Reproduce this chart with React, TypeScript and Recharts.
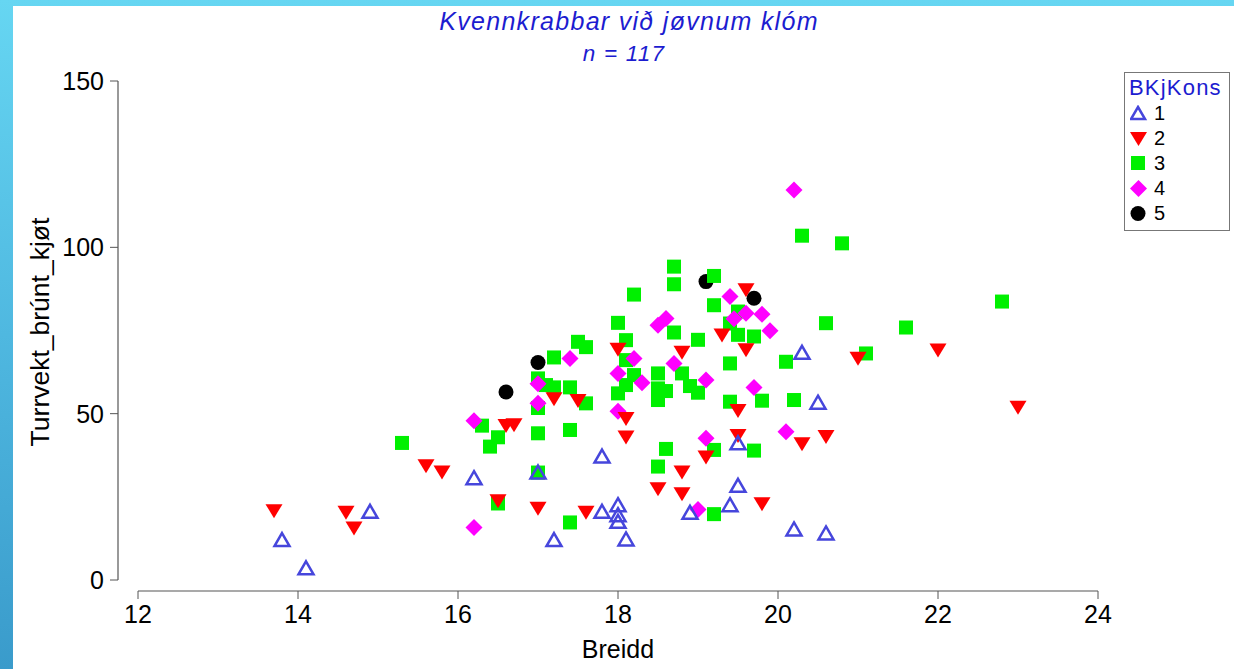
import { ScatterChart, Scatter, XAxis, YAxis, ReferenceLine } from "recharts";

const X_TICKS = [12, 14, 16, 18, 20, 22, 24];
const Y_TICKS = [0, 50, 100, 150];
const CATEGORIES = ["1", "2", "3", "4", "5"];

// BKjKons = 1
const G1_X = [13.8, 14.1, 14.9, 16.2, 17.0, 17.2, 17.8, 17.8, 18.0, 18.0, 18.0, 18.1, 18.9, 19.4, 19.5, 19.5, 20.2, 20.3, 20.5, 20.6];
const G1_Y = [12, 3.5, 20.5, 30.6, 32.3, 12, 37.1, 20.5, 22.5, 19.5, 17.5, 12.2, 20.2, 22.5, 28.3, 41.1, 15.2, 68.3, 53.3, 14];

// BKjKons = 2
const G2_X = [13.7, 14.6, 14.7, 15.6, 15.8, 16.5, 16.6, 16.7, 17.0, 17.2, 17.5, 17.6, 18.0, 18.1, 18.1, 18.5, 18.8, 18.8, 18.8, 19.1, 19.3, 19.5, 19.5, 19.6, 19.6, 19.8, 20.3, 20.6, 21.0, 22.0, 23.0];
const G2_Y = [21, 20.5, 15.8, 34.5, 32.6, 24, 46.6, 46.8, 21.7, 54.6, 54.1, 20.5, 69.5, 48.7, 43.1, 27.6, 68.6, 32.6, 26.1, 37.1, 73.8, 51.1, 43.6, 69.4, 87.4, 23.1, 41.1, 43.3, 66.8, 69.3, 52.1];

// BKjKons = 3
const G3_X = [15.3, 16.3, 16.5, 16.4, 16.5, 17.0, 17.1, 17.2, 17.4, 17.2, 17.5, 17.6, 17.6, 17.0, 17.0, 17.4, 17.0, 17.4, 18.0, 18.1, 18.2, 18.1, 18.2, 18.1, 18.0, 18.5, 18.8, 18.5, 18.6, 18.5, 18.9, 19.0, 18.7, 19.0, 19.5, 19.7, 18.7, 18.7, 19.2, 19.2, 19.5, 19.4, 19.4, 20.1, 19.8, 19.4, 20.2, 19.2, 19.7, 18.6, 18.5, 19.2, 20.3, 20.8, 22.8, 20.6, 21.6, 21.1];
const G3_Y = [41.2, 46.4, 42.9, 40.1, 23, 60.6, 58.6, 57.9, 57.9, 66.9, 71.6, 70, 53.1, 51.7, 44.1, 45.1, 32.3, 17.3, 77.3, 72.1, 85.8, 66.1, 61.6, 58.6, 56.1, 62.1, 62.1, 57.6, 56.8, 54.1, 58.3, 56.3, 74.4, 72.2, 73.7, 73.2, 94.2, 88.9, 91.4, 82.6, 80.7, 77.1, 65.1, 65.6, 53.9, 53.6, 54.1, 39.1, 38.9, 39.4, 34.1, 19.8, 103.5, 101.2, 83.7, 77.2, 75.9, 68.1];

// BKjKons = 4
const G4_X = [17.4, 17.0, 17.0, 18.0, 16.2, 16.2, 18.2, 18.0, 18.3, 18.7, 19.1, 19.7, 19.1, 20.1, 19.0, 20.2, 19.4, 19.8, 19.6, 19.45, 19.9, 18.5, 18.6];
const G4_Y = [66.6, 59, 53.1, 50.7, 47.9, 15.8, 66.6, 62.1, 59.3, 65.1, 60.1, 57.9, 42.6, 44.6, 21.2, 117.2, 85.2, 79.9, 80.2, 78.5, 74.9, 76.6, 78.6];

// BKjKons = 5
const G5_X = [16.6, 17.0, 19.1, 19.7];
const G5_Y = [56.5, 65.4, 89.7, 84.7];

const toPoints = (xs: number[], ys: number[]) => xs.map((x, i) => ({ x, y: ys[i] }));

const BLUE = "#4646dc";
const RED = "#ff0000";
const GREEN = "#00f000";
const MAGENTA = "#ff00ff";
const BLACK = "#000000";
const TITLE_BLUE = "#1c1cd0";
const FONT = "'Liberation Sans', Arial, sans-serif";

const TriUp = ({ cx, cy }: any) => (
  <polygon
    points={`${cx},${cy - 7} ${cx + 7.5},${cy + 6} ${cx - 7.5},${cy + 6}`}
    fill="none"
    stroke={BLUE}
    strokeWidth={2.5}
  />
);
const TriDown = ({ cx, cy }: any) => (
  <polygon points={`${cx - 8.5},${cy - 6} ${cx + 8.5},${cy - 6} ${cx},${cy + 8}`} fill={RED} />
);
const Square = ({ cx, cy }: any) => <rect x={cx - 7} y={cy - 7} width={14} height={14} fill={GREEN} />;
const Diamond = ({ cx, cy }: any) => (
  <polygon points={`${cx},${cy - 8.5} ${cx + 8.5},${cy} ${cx},${cy + 8.5} ${cx - 8.5},${cy}`} fill={MAGENTA} />
);
const Dot = ({ cx, cy }: any) => <circle cx={cx} cy={cy} r={7.5} fill={BLACK} />;

const LEGEND_ICONS = [
  <polygon key="1" points="8,2 15,14 1,14" fill="none" stroke={BLUE} strokeWidth={2.5} />,
  <polygon key="2" points="0,2 17,2 8.5,16" fill={RED} />,
  <rect key="3" x={1} y={1} width={14} height={14} fill={GREEN} />,
  <polygon key="4" points="8.5,0 17,8.5 8.5,17 0,8.5" fill={MAGENTA} />,
  <circle key="5" cx={8} cy={8.5} r={7.5} fill={BLACK} />,
];

// axis lines sit apart from the data region: 11 px below zero, 20 px left of 12
const X_AXIS_Y = -11 * (150 / 499);
const Y_AXIS_X = 12 - 20 / 80;

export default function App() {
  return (
    <div
      style={{
        position: "fixed",
        left: 0,
        top: 0,
        width: 1234,
        height: 669,
        background: "linear-gradient(180deg, #66d6f2 0%, #4fb8e0 50%, #3a9bcb 100%)",
        fontFamily: FONT,
        overflow: "hidden",
      }}
    >
      <div style={{ position: "absolute", left: 13, top: 6, right: 0, bottom: 0, background: "#fff" }} />

      <div style={{ position: "absolute", left: 0, top: 0 }}>
        <ScatterChart width={1234} height={669} margin={{ top: 81, right: 136, bottom: 0, left: 0 }}>
          <XAxis
            type="number"
            dataKey="x"
            domain={[12, 24]}
            ticks={X_TICKS}
            padding={{ left: 20, right: 0 }}
            height={78}
            axisLine={false}
            tickLine={{ stroke: "#555" }}
            tickSize={8}
            tickMargin={6}
            tick={{ fill: "#000", fontSize: 25, fontFamily: FONT }}
            allowDataOverflow
          />
          <YAxis
            type="number"
            dataKey="y"
            domain={[0, 150]}
            ticks={Y_TICKS}
            padding={{ top: 0, bottom: 11 }}
            width={118}
            axisLine={false}
            tickLine={{ stroke: "#555" }}
            tickSize={8}
            tickMargin={6}
            tick={{ fill: "#000", fontSize: 25, fontFamily: FONT }}
            allowDataOverflow
          />
          <ReferenceLine
            segment={[
              { x: Y_AXIS_X, y: 0 },
              { x: Y_AXIS_X, y: 150 },
            ]}
            stroke="#555"
            strokeWidth={1.2}
            ifOverflow="visible"
          />
          <ReferenceLine
            segment={[
              { x: 12, y: X_AXIS_Y },
              { x: 24, y: X_AXIS_Y },
            ]}
            stroke="#555"
            strokeWidth={1.2}
            ifOverflow="visible"
          />
          <Scatter data={toPoints(G5_X, G5_Y)} shape={Dot} isAnimationActive={false} />
          <Scatter data={toPoints(G3_X, G3_Y)} shape={Square} isAnimationActive={false} />
          <Scatter data={toPoints(G4_X, G4_Y)} shape={Diamond} isAnimationActive={false} />
          <Scatter data={toPoints(G2_X, G2_Y)} shape={TriDown} isAnimationActive={false} />
          <Scatter data={toPoints(G1_X, G1_Y)} shape={TriUp} isAnimationActive={false} />
        </ScatterChart>
      </div>

      {/* title */}
      <div
        style={{
          position: "absolute",
          left: 0,
          width: 1258,
          top: 6,
          textAlign: "center",
          color: TITLE_BLUE,
          fontStyle: "italic",
          fontSize: 25,
          letterSpacing: 1.3,
          lineHeight: "30px",
        }}
      >
        Kvennkrabbar við jøvnum klóm
      </div>
      <div
        style={{
          position: "absolute",
          left: 0,
          width: 1248,
          top: 41,
          textAlign: "center",
          color: TITLE_BLUE,
          fontStyle: "italic",
          fontSize: 22.5,
          letterSpacing: 1.2,
          lineHeight: "26px",
        }}
      >
        n = 117
      </div>

      {/* axis titles */}
      <div
        style={{
          position: "absolute",
          left: 518,
          width: 200,
          top: 634,
          textAlign: "center",
          fontSize: 25,
          lineHeight: "30px",
          color: "#000",
        }}
      >
        Breidd
      </div>
      <div
        style={{
          position: "absolute",
          left: 40,
          top: 332,
          width: 400,
          marginLeft: -200,
          marginTop: -15,
          textAlign: "center",
          fontSize: 26.5,
          lineHeight: "30px",
          color: "#000",
          transform: "rotate(-90deg)",
        }}
      >
        Turrvekt_brúnt_kjøt
      </div>

      {/* legend */}
      <div
        style={{
          position: "absolute",
          left: 1124,
          top: 72,
          width: 104,
          height: 157,
          border: "1px solid #777",
          background: "#fff",
        }}
      >
        <div
          style={{ color: TITLE_BLUE, fontSize: 22, letterSpacing: 1.2, lineHeight: "26px", paddingLeft: 4, marginTop: 2 }}
        >
          BKjKons
        </div>
        {CATEGORIES.map((c, i) => (
          <div key={c} style={{ display: "flex", alignItems: "center", height: 25, paddingLeft: 5 }}>
            <svg width={18} height={18} style={{ marginRight: 6 }}>
              {LEGEND_ICONS[i]}
            </svg>
            <span style={{ fontSize: 20, color: "#000" }}>{c}</span>
          </div>
        ))}
      </div>
    </div>
  );
}
